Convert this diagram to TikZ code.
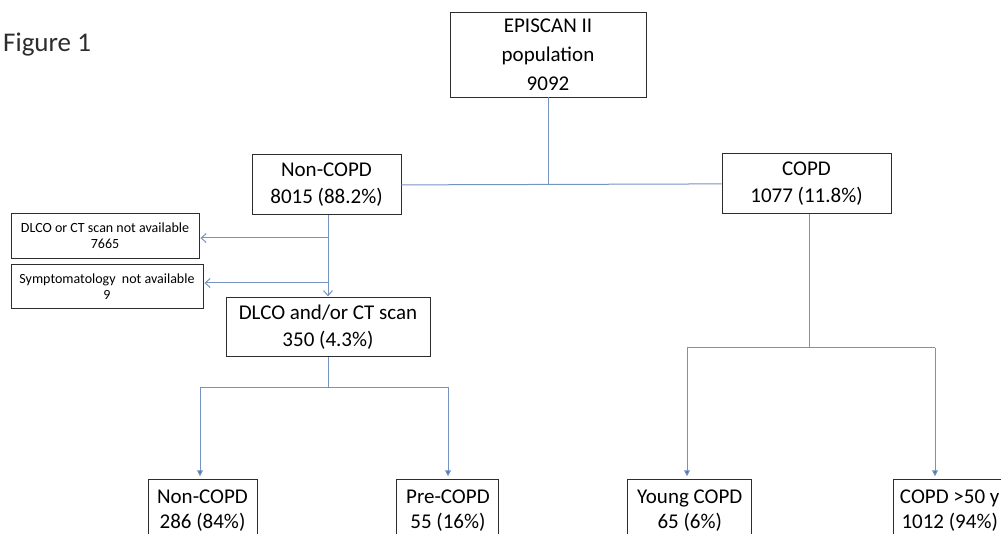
\documentclass[tikz,border=0pt]{standalone}
\usepackage{fontspec}
\setmainfont{Carlito}
\usetikzlibrary{arrows.meta,positioning}
\definecolor{linkblue}{RGB}{118,146,192}
\definecolor{tipblue}{RGB}{74,110,176}
\definecolor{boxgray}{RGB}{45,45,45}
\begin{document}
\begin{tikzpicture}[x=1pt, y=-1pt,
    box/.style={draw=boxgray, line width=0.9pt, align=center, inner sep=2pt, font=\fontsize{21}{27}\selectfont},
    smallbox/.style={draw=boxgray, line width=0.9pt, align=center, inner sep=2pt, minimum height=45pt, font=\fontsize{14}{16}\selectfont},
    leafbox/.style={box, minimum height=62pt, font=\fontsize{21}{25}\selectfont},
    link/.style={draw=linkblue, line width=1pt},
    sidearrow/.style={link, -{Straight Barb[length=5pt, width=9pt, line width=1pt]}, shorten >=1pt},
    downarrow/.style={link, -{Triangle[length=6pt, width=6pt, fill=tipblue]}, shorten >=3pt}]
    \useasboundingbox (0,0) rectangle (1001,534);
    \clip (0,0) rectangle (1001,534);
    % Title
    \node[anchor=base west, inner sep=0pt, font=\fontsize{27}{30}\selectfont, text=boxgray] (title) at (3,52) {Figure 1};
    % Nodes (population split)
    \node[box, minimum width=196pt, minimum height=85pt, font=\fontsize{21}{29}\selectfont] (episcan) at (548,54.5) {EPISCAN II\\population\\9092};
    \node[box, minimum width=149pt, minimum height=60pt, below=57pt of episcan, xshift=-221.5pt] (noncopd) {Non-COPD\\8015 (88.2\%)};
    \node[box, minimum width=169pt, minimum height=60pt, below=56pt of episcan, xshift=258.5pt] (copd) {COPD\\1077 (11.8\%)};
    % Excluded subjects
    \node[smallbox, minimum width=188pt] (nodlco) at (105,236) {DLCO or CT scan not available\\7665};
    \node[smallbox, minimum width=192pt, minimum height=44pt, below=5pt of nodlco, xshift=2pt] (nosympt) {Symptomatology\ \ not available\\9};
    \node[box, minimum width=204pt, minimum height=59pt, below=82pt of noncopd, xshift=1.5pt] (dlco) {DLCO and/or CT scan\\350 (4.3\%)};
    % Final groups
    \node[leafbox, minimum width=109pt, below=122pt of dlco, xshift=-125.5pt] (noncopdB) {Non-COPD\\286 (84\%)};
    \node[leafbox, minimum width=102pt, right=139pt of noncopdB] (precopd) {Pre-COPD\\55 (16\%)};
    \node[leafbox, minimum width=124pt, right=128pt of precopd] (young) {Young COPD\\65 (6\%)};
    \node[leafbox, minimum width=112pt, right=141pt of young] (older) {COPD >50 y\\1012 (94\%)};
    % Branch points
    \coordinate (skip1) at (328,238);
    \coordinate (skip2) at (328,283);
    \coordinate (fork1) at (328,387);
    \coordinate (fork2) at (809,348);
    \coordinate (left1) at (200,387);
    \coordinate (right1) at (448,387);
    \coordinate (left2) at (687,348);
    \coordinate (right2) at (935,348);
    % Arrows
    \draw[link] (noncopd.east) -- (copd.west);
    \draw[link] (episcan.south) -- (episcan.south |- copd.west);
    \draw[sidearrow] (dlco.north |- noncopd.south) -- (dlco.north);
    \draw[sidearrow] (skip1) -- (skip1 -| nodlco.east);
    \draw[sidearrow] (skip2) -- (skip2 -| nosympt.east);
    \draw[link] (dlco.south) -- (fork1);
    \draw[link] (left1) -- (right1);
    \draw[downarrow] (left1) -- (left1 |- noncopdB.north);
    \draw[downarrow] (right1) -- (right1 |- precopd.north);
    \draw[link] (fork2 |- copd.south) -- (fork2);
    \draw[link] (left2) -- (right2);
    \draw[downarrow] (left2) -- (left2 |- young.north);
    \draw[downarrow] (right2) -- (right2 |- older.north);
\end{tikzpicture}
\end{document}
